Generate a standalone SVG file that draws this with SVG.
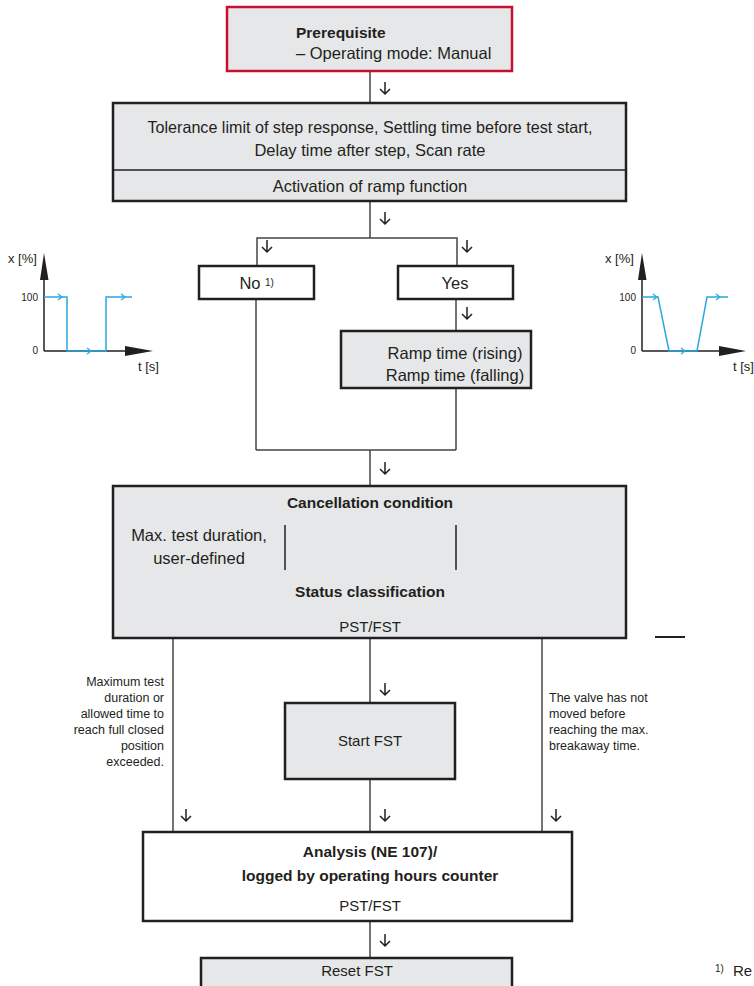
<svg xmlns="http://www.w3.org/2000/svg" width="754" height="986" viewBox="0 0 754 986">
<style>
text{font-family:"Liberation Sans",Arial,sans-serif;fill:#231f20}
.t{font-size:16.5px}
.u{font-size:15px}
.b{font-size:15.5px;font-weight:bold}
.s{font-size:12.5px}
.g{font-size:10px}
.gl{font-size:13px}
.box{fill:#e6e7e8;stroke:#231f20;stroke-width:2.5}
.wbox{fill:#ffffff;stroke:#231f20;stroke-width:2.5}
.ln{fill:none;stroke:#444;stroke-width:1.5}
.ax{fill:none;stroke:#231f20;stroke-width:1.5}
.bl{fill:none;stroke:#29a8e0;stroke-width:1.5}
.arr{fill:none;stroke:#231f20;stroke-width:1.5}
</style>
<defs>
<path id="a" d="M0,-6 V6 M-5,1 L0,6 L5,1" class="arr"/>
<path id="c" d="M-3,-3 L1,0 L-3,3" fill="none" stroke="#29a8e0" stroke-width="1.2"/>
</defs>

<g id="connectors">
<line class="ln" x1="370" y1="71" x2="370" y2="103"/>
<line class="ln" x1="370" y1="201" x2="370" y2="238"/>
<polyline class="ln" points="257,266 257,238 457,238 457,266"/>
<line class="ln" x1="456" y1="299" x2="456" y2="331"/>
<line class="ln" x1="256" y1="299" x2="256" y2="450"/>
<line class="ln" x1="456" y1="388" x2="456" y2="450"/>
<line class="ln" x1="256" y1="450" x2="456" y2="450"/>
<line class="ln" x1="370" y1="450" x2="370" y2="486"/>
<line class="ln" x1="173" y1="638" x2="173" y2="832"/>
<line class="ln" x1="370" y1="638" x2="370" y2="703"/>
<line class="ln" x1="370" y1="779" x2="370" y2="832"/>
<line class="ln" x1="542" y1="638" x2="542" y2="832"/>
<line class="ln" x1="370" y1="921" x2="370" y2="958"/>
<line x1="655" y1="637" x2="685" y2="637" stroke="#231f20" stroke-width="2"/>
<use href="#a" x="385" y="88"/>
<use href="#a" x="385" y="218"/>
<use href="#a" x="267" y="246"/>
<use href="#a" x="467" y="246"/>
<use href="#a" x="467" y="313"/>
<use href="#a" x="385" y="468"/>
<use href="#a" x="385" y="689"/>
<use href="#a" x="186" y="815"/>
<use href="#a" x="385" y="815"/>
<use href="#a" x="556" y="815"/>
<use href="#a" x="385" y="940"/>
</g>

<g id="prerequisite">
<rect x="227" y="7" width="285" height="64" fill="#e6e7e8" stroke="#c8102e" stroke-width="2.5"/>
<text class="b" x="296" y="38">Prerequisite</text>
<text class="t" x="296" y="59">– Operating mode: Manual</text>
</g>

<g id="parameters">
<rect class="box" x="113" y="103" width="513" height="98"/>
<line x1="113" y1="170" x2="626" y2="170" stroke="#231f20" stroke-width="1.5"/>
<text class="t" x="370" y="133" text-anchor="middle" textLength="445" lengthAdjust="spacingAndGlyphs">Tolerance limit of step response, Settling time before test start,</text>
<text class="t" x="370" y="156" text-anchor="middle">Delay time after step, Scan rate</text>
<text class="t" x="370" y="192" text-anchor="middle">Activation of ramp function</text>
</g>

<g id="no">
<rect class="wbox" x="199" y="266" width="115" height="33"/>
<text class="t" x="250" y="289" text-anchor="middle">No</text>
<text class="g" x="265" y="286">1)</text>
</g>

<g id="yes">
<rect class="wbox" x="398" y="266" width="115" height="33"/>
<text class="t" x="455" y="289" text-anchor="middle">Yes</text>
</g>

<g id="ramp">
<rect class="box" x="341" y="331" width="190" height="57"/>
<text class="t" x="455" y="359" text-anchor="middle">Ramp time (rising)</text>
<text class="t" x="455" y="381" text-anchor="middle">Ramp time (falling)</text>
</g>

<g id="cancellation">
<rect class="box" x="113" y="486" width="513" height="152"/>
<text class="b" x="370" y="508" text-anchor="middle">Cancellation condition</text>
<line x1="285" y1="525" x2="285" y2="570" stroke="#231f20" stroke-width="1.5"/>
<line x1="456" y1="525" x2="456" y2="570" stroke="#231f20" stroke-width="1.5"/>
<text class="t" x="199" y="541" text-anchor="middle">Max. test duration,</text>
<text class="t" x="199" y="564" text-anchor="middle">user-defined</text>
<text class="b" x="370" y="597" text-anchor="middle">Status classification</text>
<text class="u" x="370" y="632" text-anchor="middle">PST/FST</text>
</g>

<g id="note-left">
<text class="s" x="164" y="686" text-anchor="end">Maximum test</text>
<text class="s" x="164" y="702" text-anchor="end">duration or</text>
<text class="s" x="164" y="718" text-anchor="end">allowed time to</text>
<text class="s" x="164" y="734" text-anchor="end">reach full closed</text>
<text class="s" x="164" y="750" text-anchor="end">position</text>
<text class="s" x="164" y="766" text-anchor="end">exceeded.</text>
</g>

<g id="note-right">
<text class="s" x="549" y="702">The valve has not</text>
<text class="s" x="549" y="718">moved before</text>
<text class="s" x="549" y="734">reaching the max.</text>
<text class="s" x="549" y="750">breakaway time.</text>
</g>

<g id="startfst">
<rect class="box" x="285" y="703" width="170" height="76"/>
<text class="u" x="370" y="746" text-anchor="middle">Start FST</text>
</g>

<g id="analysis">
<rect class="wbox" x="143" y="832" width="429" height="89"/>
<text class="b" x="370" y="857" text-anchor="middle">Analysis (NE 107)/</text>
<text class="b" x="370" y="881" text-anchor="middle">logged by operating hours counter</text>
<text class="u" x="370" y="911" text-anchor="middle">PST/FST</text>
</g>

<g id="reset">
<rect class="box" x="201" y="958" width="311" height="40"/>
<text class="u" x="357" y="976" text-anchor="middle">Reset FST</text>
</g>

<g id="footnote">
<text class="g" x="715" y="972">1)</text>
<text class="u" x="733" y="976" font-size="14">Re</text>
</g>

<g id="graph-step">
<line class="ax" x1="44" y1="351" x2="44" y2="275"/>
<path d="M44,253 L40,280 L48.5,280 Z" fill="#231f20"/>
<line class="ax" x1="44" y1="351" x2="128" y2="351"/>
<path d="M153,351 L125,346 L125,356 Z" fill="#231f20"/>
<polyline class="bl" points="44,297 67,297 67,351 106,351 106,297 132,297"/>
<use href="#c" x="61" y="297"/>
<use href="#c" x="90" y="351"/>
<use href="#c" x="124" y="297"/>
<text class="gl" x="8" y="263">x [%]</text>
<text class="g" x="38" y="301" text-anchor="end">100</text>
<text class="g" x="38" y="354" text-anchor="end">0</text>
<text class="gl" x="138" y="371">t [s]</text>
</g>

<g id="graph-ramp">
<line class="ax" x1="642" y1="351" x2="642" y2="275"/>
<path d="M642,253 L638,280 L646.5,280 Z" fill="#231f20"/>
<line class="ax" x1="642" y1="351" x2="722" y2="351"/>
<path d="M746,351 L719,346 L719,356 Z" fill="#231f20"/>
<polyline class="bl" points="642,297 658,297 669,351 697,351 707,297 728,297"/>
<use href="#c" x="656" y="297"/>
<use href="#c" x="684" y="351"/>
<use href="#c" x="719" y="297"/>
<text class="gl" x="605" y="263">x [%]</text>
<text class="g" x="636" y="301" text-anchor="end">100</text>
<text class="g" x="636" y="354" text-anchor="end">0</text>
<text class="gl" x="733" y="371">t [s]</text>
</g>
</svg>
